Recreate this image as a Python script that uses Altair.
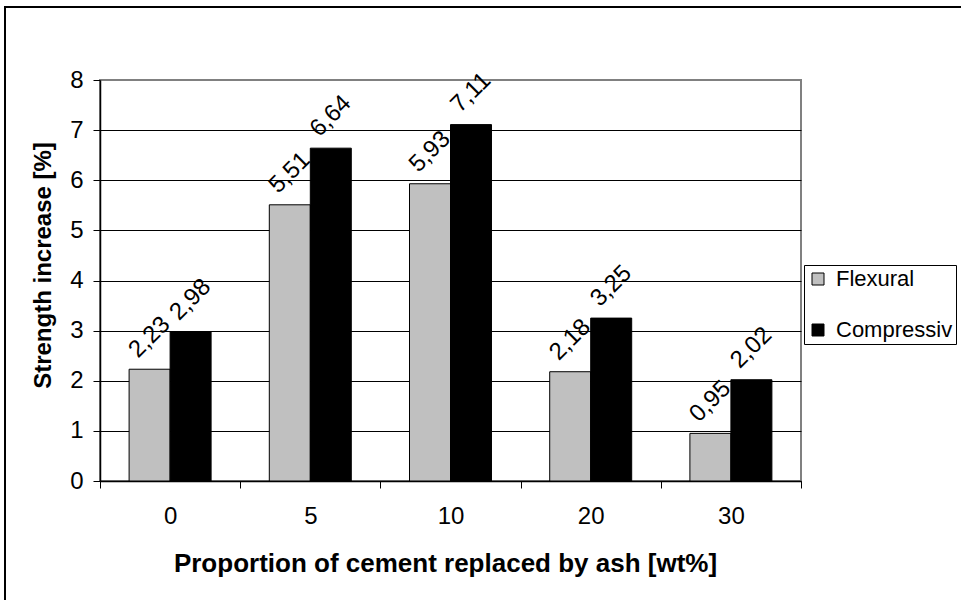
import altair as alt
import pandas as pd

categories = ["0", "5", "10", "20", "30"]
flexural = [2.23, 5.51, 5.93, 2.18, 0.95]
compressive = [2.98, 6.64, 7.11, 3.25, 2.02]
series = ["Flexural", "Compressive"]
colors = ["#C0C0C0", "#000000"]
y_ticks = [0, 1, 2, 3, 4, 5, 6, 7, 8]

rows = []
for c, f, k in zip(categories, flexural, compressive):
    for s, v in zip(series, [f, k]):
        rows.append({"cat": c, "series": s, "value": v,
                     "label": f"{v:.2f}".replace(".", ",")})
df = pd.DataFrame(rows)

FONT = "Liberation Sans"

x = alt.X("cat:N", sort=categories,
          scale=alt.Scale(paddingInner=0, paddingOuter=0),
          axis=alt.Axis(title="Proportion of cement replaced by ash [wt%]",
                        labelAngle=0, tickBand="extent", tickSize=7,
                        labelPadding=16, labelFontSize=24, labelColor="black",
                        tickColor="black", domainColor="black", domainWidth=1.5,
                        titleFontSize=26, titleFontWeight="bold", titleColor="black",
                        titleX=345, titleY=90, titleAlign="center",
                        titleBaseline="alphabetic", grid=False))
xoff = alt.XOffset("series:N", sort=series,
                   scale=alt.Scale(paddingOuter=0.71, paddingInner=0))
y = alt.Y("value:Q",
          scale=alt.Scale(domain=[0, 8], nice=False, zero=True),
          axis=alt.Axis(title="Strength increase [%]", values=y_ticks,
                        tickSize=7, labelPadding=10, labelFontSize=24,
                        labelColor="black", tickColor="black",
                        domainColor="black", domainWidth=1.5,
                        grid=True,
                        gridColor=alt.condition("datum.value == 8",
                                                alt.value("transparent"),
                                                alt.value("black")),
                        gridWidth=1.2,
                        titleFontSize=24, titleFontWeight="bold", titleColor="black",
                        titleAngle=270, titleX=-57, titleY=185,
                        titleAlign="center", titleBaseline="middle"))

border = alt.Chart(pd.DataFrame({"a": [0]})).mark_rect(
    fillOpacity=0, stroke="black", strokeWidth=2
).encode(x=alt.value(-95), x2=alt.value(880), y=alt.value(-73), y2=alt.value(540))

labels = alt.Chart(df).mark_text(
    angle=315, align="center", baseline="middle", dx=22.6, dy=-22.6,
    fontSize=24, color="black", font=FONT
).encode(x=x, xOffset=xoff, y=y, text="label:N")

bars = alt.Chart(df).mark_bar(stroke="black", strokeWidth=1).encode(
    x=x, xOffset=xoff, y=y,
    color=alt.Color("series:N", sort=series,
                    scale=alt.Scale(domain=series, range=colors),
                    legend=alt.Legend(title=None, orient="none", legendX=704, legendY=185,
                                      strokeColor="black", fillColor="white", padding=3,
                                      symbolType="square", symbolSize=144,
                                      symbolStrokeColor="black", symbolStrokeWidth=1,
                                      labelFontSize=22, labelColor="black", labelFont=FONT,
                                      rowPadding=29, labelOffset=7, labelLimit=300,
                                      labelExpr="substring(datum.label, 0, 10)"))
)

chart = alt.layer(border, labels, bars).properties(
    width=701, height=401,
    autosize=alt.AutoSizeParams(type="none"),
    padding={"left": 100, "top": 80, "right": 160, "bottom": 119},
    background="white",
).configure(font=FONT).configure_view(stroke="#808080", strokeWidth=2)

chart.save("out.html", embed_options={"renderer": "svg", "actions": False})
